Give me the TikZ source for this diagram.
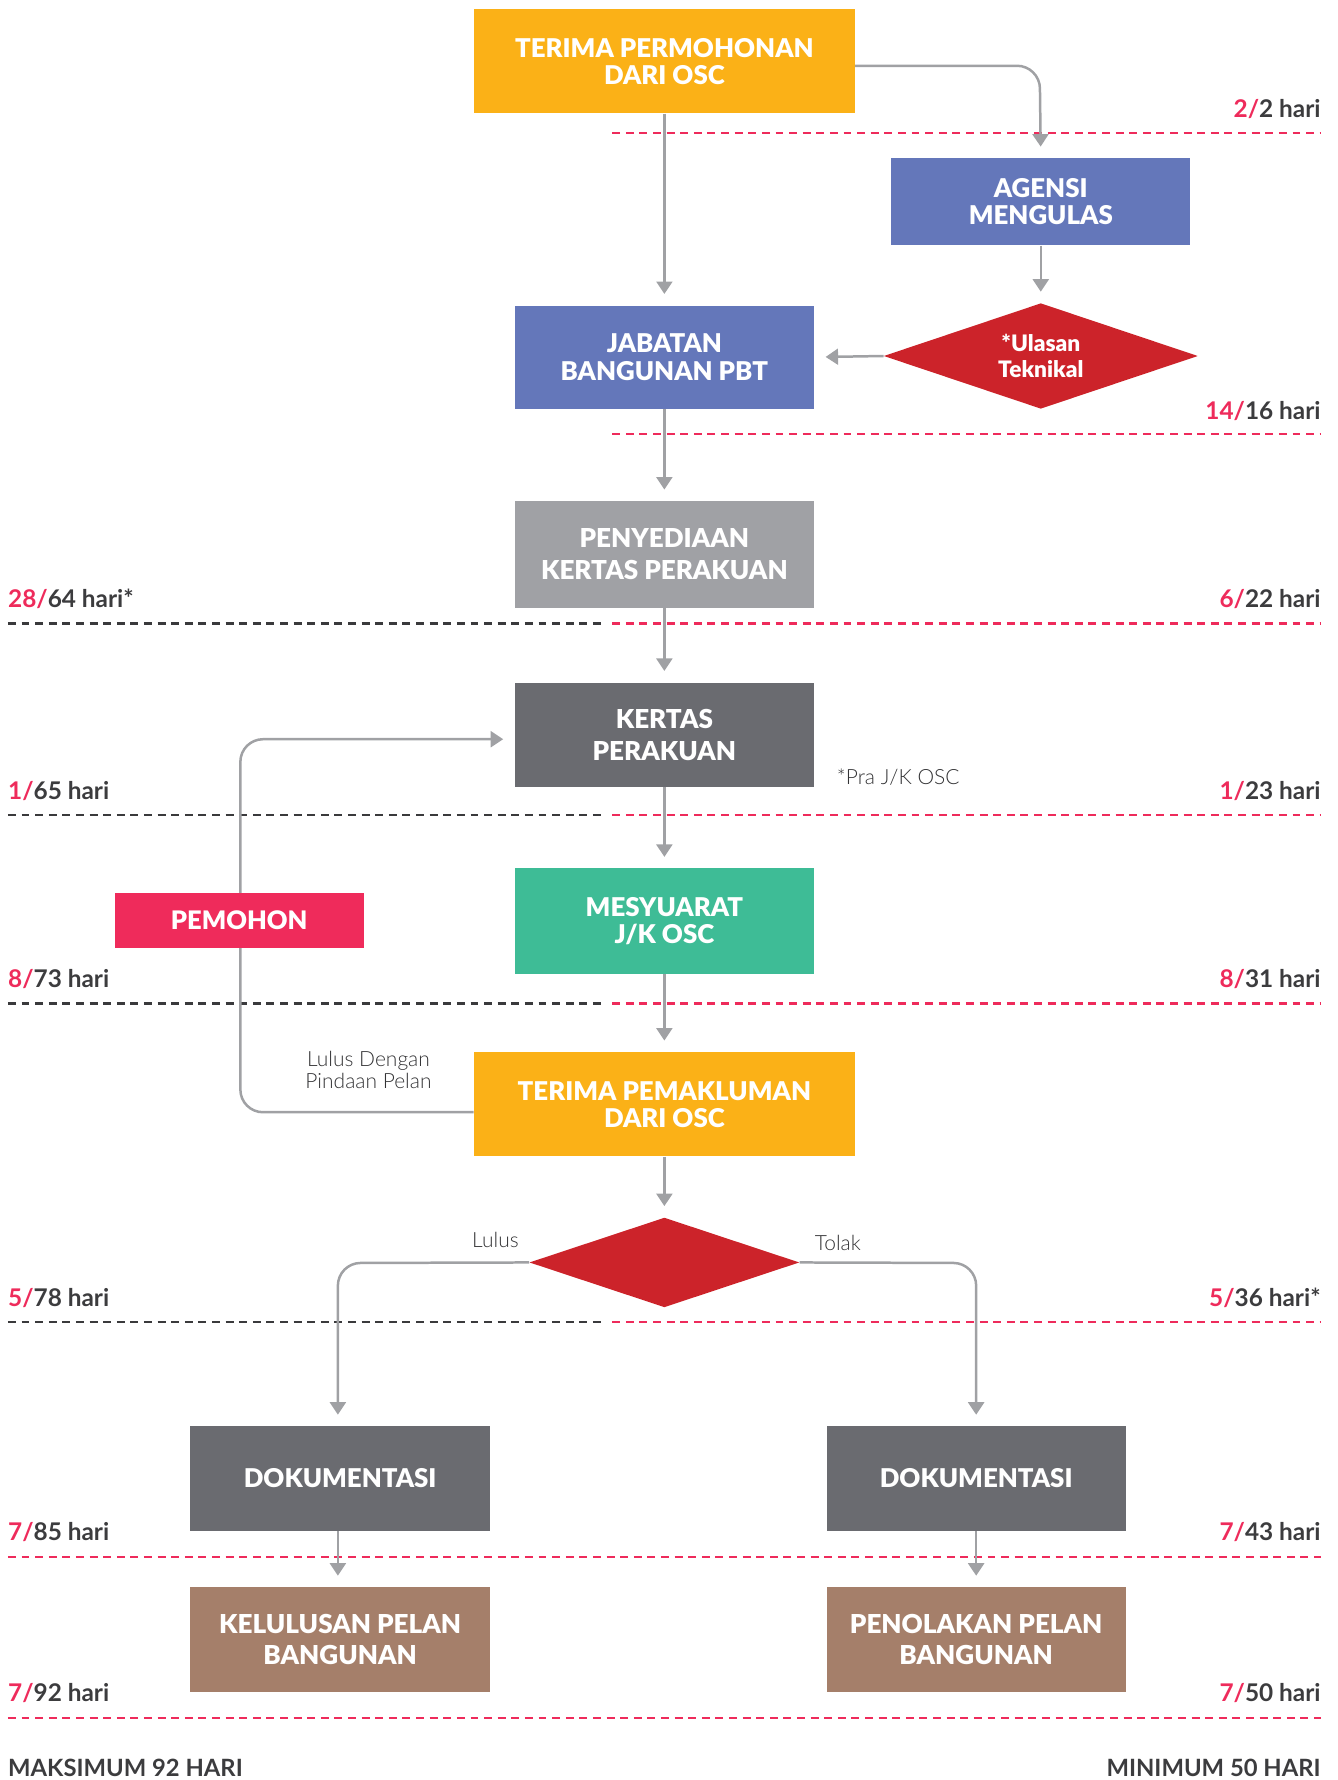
\documentclass[tikz,border=0pt]{standalone}
\usepackage{fontspec}
\setmainfont{Lato}
\newfontfamily\heavy{Lato Black}
\newfontfamily\light{Lato Light}
\usetikzlibrary{shapes.geometric,arrows.meta}
\definecolor{corange}{HTML}{FBB117}
\definecolor{cblue}{HTML}{6477BA}
\definecolor{cred}{HTML}{CC232A}
\definecolor{clgray}{HTML}{A0A1A5}
\definecolor{cdgray}{HTML}{6A6B70}
\definecolor{cgreen}{HTML}{3EBC96}
\definecolor{cpink}{HTML}{EF2B5B}
\definecolor{cbrown}{HTML}{A57F6A}
\definecolor{cline}{HTML}{A0A1A4}
\definecolor{cdash}{HTML}{EE2B5B}
\definecolor{cblack}{HTML}{3A3A3C}
\definecolor{ctext}{HTML}{3C3C3E}
\definecolor{cnote}{HTML}{333335}
\begin{document}
\begin{tikzpicture}[x=1pt,y=-1pt,
  box/.style={rectangle, inner sep=0pt, text=white, align=center,
    font=\heavy\fontsize{22.8}{24}\selectfont},
  wbox/.style={box, minimum width=336pt, minimum height=92pt},
  nbox/.style={box, minimum width=264pt, minimum height=93pt},
  arr/.style={draw=cline, line width=2.2pt, -{Triangle[width=14pt,length=11pt]}, shorten >=10pt},
  rarr/.style={arr, rounded corners=20pt},
  lbl/.style={inner sep=0pt, text=ctext, font=\bfseries\fontsize{21.5}{24}\selectfont},
  note/.style={inner sep=0pt, text=cnote, align=center, font=\light\fontsize{18.5}{19.5}\selectfont},
  rdash/.style={draw=cdash, line width=2pt, dash pattern=on 7pt off 5pt},
  kdash/.style={draw=cblack, line width=2pt, dash pattern=on 7pt off 5pt},
]
\useasboundingbox (0,0) rectangle (1180,1570);

% boxes
\node[wbox, fill=corange] (tp) at (586,54) {TERIMA PERMOHONAN\\DARI OSC};
\node[box, fill=cblue, minimum width=264pt, minimum height=77pt] (ag) at (918,178) {AGENSI\\MENGULAS};
\node[diamond, aspect=3, fill=cred, inner sep=0pt, minimum width=277pt, minimum height=93pt,
  text=white, align=center, font=\heavy\fontsize{20}{23}\selectfont] (ul) at (918,314) {*Ulasan\\Teknikal};
\node[nbox, fill=cblue, minimum height=91pt] (jb) at (586,315) {JABATAN\\BANGUNAN PBT};
\node[nbox, fill=clgray, minimum height=94pt, font=\heavy\fontsize{23}{28}\selectfont] (pk) at (586,489) {PENYEDIAAN\\KERTAS PERAKUAN};
\node[nbox, fill=cdgray, minimum height=92pt, font=\heavy\fontsize{23}{28}\selectfont] (kp) at (586,648) {KERTAS\\PERAKUAN};
\node[nbox, fill=cgreen] (ms) at (586,812.5) {MESYUARAT\\J/K OSC};
\node[wbox, fill=corange] (tpk) at (586,974) {TERIMA PEMAKLUMAN\\DARI OSC};
\node[diamond, fill=cred, inner sep=0pt, minimum width=238pt, minimum height=79pt] (dc) at (586,1113.5) {};
\node[nbox, fill=cdgray, minimum height=92pt] (dl) at (300,1304) {DOKUMENTASI};
\node[nbox, fill=cdgray, minimum height=92pt] (dr) at (861,1304) {DOKUMENTASI};
\node[nbox, fill=cbrown, minimum height=92pt, font=\heavy\fontsize{23}{28}\selectfont] (kl) at (300,1446) {KELULUSAN PELAN\\BANGUNAN};
\node[nbox, fill=cbrown, minimum height=92pt, font=\heavy\fontsize{23}{28}\selectfont] (pn) at (861,1446) {PENOLAKAN PELAN\\BANGUNAN};

% dashed lines
\draw[rdash] (540,117) -- (1165,117);
\draw[rdash] (540,383) -- (1165,383);
\foreach \yy in {550,719,885,1166}{
  \draw[kdash] (7,\yy) -- (530,\yy);
  \draw[rdash] (540,\yy) -- (1165,\yy);
}
\draw[rdash] (7,1373) -- (1165,1373);
\draw[rdash] (7,1515) -- (1165,1515);

% connectors
\coordinate (c1) at (917,58);
\draw[rarr] ([yshift=-4pt]tp.east) -- (c1) -- (ag.north);
\draw[arr] (tp.south) -- (jb.north);
\draw[arr] (ag.south) -- (ul.north);
\draw[arr] (ul.west) -- (jb.east);
\draw[arr] (jb.south) -- (pk.north);
\draw[arr] (pk.south) -- (kp.north);
\draw[arr] (kp.south) -- (ms.north);
\draw[arr] (ms.south) -- (tpk.north);
\draw[arr] (tpk.south) -- (dc.north);
\coordinate (lp1) at (212,981);
\coordinate (lp2) at (212,652);
\draw[rarr] ([yshift=-7pt]tpk.west) -- (lp1) -- (lp2) -- ([yshift=-4pt]kp.west);
\coordinate (bl) at (298,1114);
\coordinate (br) at (861,1114);
\draw[rarr] (dc.west) -- (bl) -- ([xshift=-2pt]dl.north);
\draw[rarr] (dc.east) -- (br) -- (dr.north);
\draw[arr] ([xshift=-2pt]dl.south) -- ([xshift=-2pt]kl.north);
\draw[arr] (dr.south) -- (pn.north);

\node[box, fill=cpink, minimum width=220pt, minimum height=48pt, font=\heavy\fontsize{22.5}{24}\selectfont] (pm) at (211,812) {PEMOHON};

% notes
\node[note, anchor=base] (n1) at (437,1100) {Lulus};
\node[note, anchor=base] (n2) at (739,1103) {Tolak};
\node[note, anchor=base west] (n3) at (738,692) {*Pra J/K OSC};
\node[note, anchor=base, align=center] (n4) at (325,960) {Lulus Dengan\\Pindaan Pelan};

% day labels
\node[lbl, anchor=base east] (r1) at (1165,104) {\textcolor{cdash}{2/}2 hari};
\node[lbl, anchor=base east] (r2) at (1165,370) {\textcolor{cdash}{14/}16 hari};
\node[lbl, anchor=base east] (r3) at (1165,536) {\textcolor{cdash}{6/}22 hari};
\node[lbl, anchor=base east] (r4) at (1165,705) {\textcolor{cdash}{1/}23 hari};
\node[lbl, anchor=base east] (r5) at (1165,871) {\textcolor{cdash}{8/}31 hari};
\node[lbl, anchor=base east] (r6) at (1165,1152) {\textcolor{cdash}{5/}36 hari*};
\node[lbl, anchor=base east] (r7) at (1165,1359) {\textcolor{cdash}{7/}43 hari};
\node[lbl, anchor=base east] (r8) at (1165,1501) {\textcolor{cdash}{7/}50 hari};
\node[lbl, anchor=base west] (l3) at (7,536) {\textcolor{cdash}{28/}64 hari*};
\node[lbl, anchor=base west] (l4) at (7,705) {\textcolor{cdash}{1/}65 hari};
\node[lbl, anchor=base west] (l5) at (7,871) {\textcolor{cdash}{8/}73 hari};
\node[lbl, anchor=base west] (l6) at (7,1152) {\textcolor{cdash}{5/}78 hari};
\node[lbl, anchor=base west] (l7) at (7,1359) {\textcolor{cdash}{7/}85 hari};
\node[lbl, anchor=base west] (l8) at (7,1501) {\textcolor{cdash}{7/}92 hari};
\node[lbl, anchor=base west, font=\bfseries\fontsize{21}{22}\selectfont] (mx) at (7,1567) {MAKSIMUM 92 HARI};
\node[lbl, anchor=base east, font=\bfseries\fontsize{21}{22}\selectfont] (mn) at (1165,1567) {MINIMUM 50 HARI};
\end{tikzpicture}
\end{document}
